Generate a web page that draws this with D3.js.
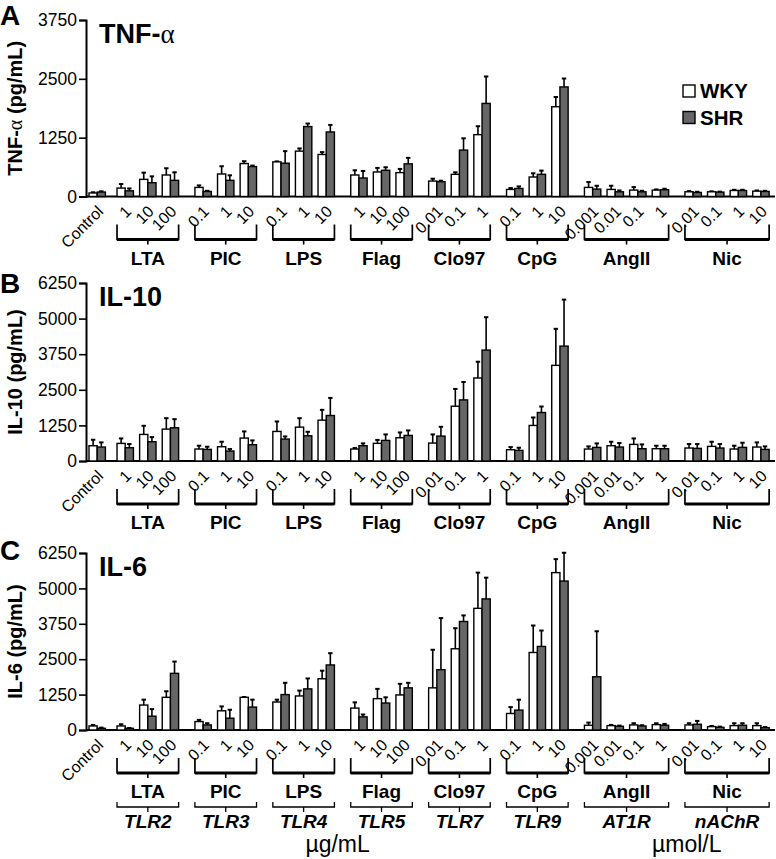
<!DOCTYPE html>
<html><head><meta charset="utf-8">
<script src="https://cdn.jsdelivr.net/npm/d3@7"></script>
<style>body{margin:0;background:#fff}svg{display:block}</style>
</head><body>
<script>
// ---------- data ----------
const groups = ["Control","LTA","PIC","LPS","Flag","Clo97","CpG","AngII","Nic"];
const receptors = ["","TLR2","TLR3","TLR4","TLR5","TLR7","TLR9","AT1R","nAChR"];
const doses = [["Control"],["1","10","100"],["0.1","1","10"],["0.1","1","10"],["1","10","100"],["0.01","0.1","1"],["0.1","1","10"],["0.001","0.01","0.1","1"],["0.01","0.1","1","10"]];
const series = ["WKY","SHR"];
const ticksA = [0,1250,2500,3750];
const ticksBC = [0,1250,2500,3750,5000,6250];

const tnfWKY    = [75,179,364,457,193,478,700,736,964,893,457,521,507,328,471,1314,150,414,1907,193,150,136,136,100,100,128,114];
const tnfWKYErr = [15,85,143,143,43,165,50,10,57,50,100,86,79,50,43,179,29,79,207,114,78,64,14,14,10,14,14];
const tnfSHR    = [95,121,293,343,107,343,636,707,1486,1371,393,557,693,314,986,1978,171,471,2328,157,100,100,143,86,93,128,107];
const tnfSHRErr = [15,50,135,171,14,107,21,257,64,150,150,64,128,22,250,572,43,79,179,71,28,21,21,14,10,14,14];

const il10WKY    = [536,618,933,1119,420,501,805,1038,1189,1434,420,620,816,630,1924,2915,396,1248,3358,420,536,583,431,455,513,420,490];
const il10WKYErr = [210,175,303,385,117,175,233,350,315,362,35,120,187,303,606,571,93,280,1283,93,140,210,105,140,163,117,163];
const il10SHR    = [490,466,676,1166,408,350,571,770,886,1597,536,723,898,875,2145,3894,373,1702,4034,478,490,431,431,443,455,478,408];
const il10SHRErr = [163,129,163,303,93,70,152,93,140,618,82,210,175,326,630,1155,93,210,1633,140,140,152,105,152,140,163,105];

const il6WKY    = [143,143,881,1154,298,678,1154,988,1202,1809,774,1107,1238,1488,2868,4296,583,2737,5557,167,155,179,190,179,119,155,155];
const il6WKYErr = [36,60,190,214,60,155,10,83,190,285,202,345,392,1345,726,1261,226,952,476,95,24,60,48,60,24,83,83];
const il6SHR    = [60,60,488,2000,179,417,809,1250,1452,2297,464,952,1488,2130,3832,4629,702,2951,5260,1880,131,143,167,202,95,167,83];
const il6SHRErr = [24,12,250,416,60,297,262,416,369,416,83,202,178,1821,214,750,369,560,999,1607,24,24,48,119,24,71,24];

// ---------- layout ----------
const W = 776, H = 859;
const FONT = "'Liberation Sans', Arial, Helvetica, sans-serif";
const SERIF = "'Liberation Serif', 'DejaVu Serif', serif";
const svg = d3.select("body").append("svg").attr("width", W).attr("height", H)
  .style("font-family", FONT);

const ctrlGap = 0.24, groupGap = 0.447;
const pairs = [];
let idx = 0;
doses.forEach((ds, g) => ds.forEach(d => {
  pairs.push({g, dose: d, i: idx, pos: idx + (g > 0 ? ctrlGap + (g - 1) * groupGap : 0)});
  idx++;
}));
const x = d3.scaleLinear().domain([0, 1]).range([89, 111.6]);
const bw = 8.2, pairW = bw * 2;
const axisX = 86;

const panels = [
  {letter:"A", title:["TNF-","\u03b1"], ylab:["TNF-","\u03b1"," (pg/mL)"], top:20, bottom:196.5, max:3750, ticks:ticksA,
   wky:tnfWKY, wkyE:tnfWKYErr, shr:tnfSHR, shrE:tnfSHRErr, letterY:25, legend:true},
  {letter:"B", title:["IL-10"], ylab:["IL-10 (pg/mL)"], top:283, bottom:461, max:6250, ticks:ticksBC,
   wky:il10WKY, wkyE:il10WKYErr, shr:il10SHR, shrE:il10SHRErr, letterY:293},
  {letter:"C", title:["IL-6"], ylab:["IL-6 (pg/mL)"], top:553, bottom:730, max:6250, ticks:ticksBC,
   wky:il6WKY, wkyE:il6WKYErr, shr:il6SHR, shrE:il6SHRErr, letterY:560, receptors:true}
];

function addParts(sel, parts) {
  parts.forEach(t => {
    const ts = sel.append("tspan").text(t);
    if (t === "\u03b1") ts.attr("font-family", SERIF).attr("font-weight", "normal");
  });
}

panels.forEach(p => {
  const g = svg.append("g");
  const y = d3.scaleLinear().domain([0, p.max]).range([p.bottom, p.top]);

  // y axis
  const ax = d3.axisLeft(y).tickValues(p.ticks).tickSize(7).tickPadding(2).tickFormat(d3.format("d"));
  const axg = g.append("g").attr("transform", `translate(${axisX},0)`).call(ax);
  axg.select(".domain").attr("stroke", "#000").attr("stroke-width", 2);
  axg.selectAll(".tick line").attr("stroke", "#000").attr("stroke-width", 1.6);
  axg.selectAll(".tick text").attr("font-size", 17.5).attr("font-family", FONT).attr("fill", "#000");

  // x baseline
  g.append("line").attr("x1", axisX).attr("x2", 775).attr("y1", y(0)).attr("y2", y(0))
    .attr("stroke", "#000").attr("stroke-width", 2);

  // bars
  const sets = [
    {vals: p.wky, errs: p.wkyE, off: 0, fill: "#fff"},
    {vals: p.shr, errs: p.shrE, off: bw, fill: "#666"}
  ];
  sets.forEach(s => {
    const bg = g.append("g");
    pairs.forEach((pr, k) => {
      const bx = x(pr.pos) + s.off;
      const cx = bx + bw / 2;
      const top = y(s.vals[k]), et = y(s.vals[k] + s.errs[k]);
      bg.append("line").attr("x1", cx).attr("x2", cx).attr("y1", top).attr("y2", et)
        .attr("stroke", "#000").attr("stroke-width", 1.6);
      bg.append("line").attr("x1", cx - 2.2).attr("x2", cx + 2.2).attr("y1", et).attr("y2", et)
        .attr("stroke", "#000").attr("stroke-width", 2);
      bg.append("rect").attr("x", bx).attr("y", top).attr("width", bw).attr("height", y(0) - top)
        .attr("fill", s.fill).attr("stroke", "#000").attr("stroke-width", 1.4);
    });
  });

  // dose labels
  pairs.forEach(pr => {
    const cx = x(pr.pos) + pairW / 2 + 7, cy = y(0) + 16;
    g.append("text").attr("transform", `translate(${cx},${cy}) rotate(-45)`)
      .attr("text-anchor", "end").attr("font-size", 16).text(pr.dose);
  });

  // group brackets and labels
  groups.forEach((name, gi) => {
    if (gi === 0) return;
    const gp = pairs.filter(d => d.g === gi);
    const x1 = x(gp[0].pos), x2 = x(gp[gp.length - 1].pos) + pairW, xm = (x1 + x2) / 2;
    const by = y(0) + 43;
    g.append("path").attr("d", `M${x1},${by - 15}V${by}H${x2}V${by - 15}`)
      .attr("fill", "none").attr("stroke", "#000").attr("stroke-width", 1.7);
    g.append("line").attr("x1", x1).attr("x2", x2).attr("y1", by).attr("y2", by)
      .attr("stroke", "#000").attr("stroke-width", 3.2);
    g.append("line").attr("x1", xm).attr("x2", xm).attr("y1", by).attr("y2", by + 5)
      .attr("stroke", "#000").attr("stroke-width", 1.6);
    g.append("text").attr("x", xm).attr("y", y(0) + 68).attr("text-anchor", "middle")
      .attr("font-size", 19).attr("font-weight", "bold").text(name);
    if (p.receptors) {
      const ry = y(0) + 77;
      g.append("path").attr("d", `M${x1},${ry - 5}V${ry}H${x2}V${ry - 5}M${xm},${ry}V${ry + 5}`)
        .attr("fill", "none").attr("stroke", "#000").attr("stroke-width", 1.3);
      g.append("text").attr("x", xm).attr("y", y(0) + 98).attr("text-anchor", "middle")
        .attr("font-size", 19).attr("font-weight", "bold").attr("font-style", "italic").text(receptors[gi]);
    }
  });

  // panel letter, title, y label
  g.append("text").attr("x", 0).attr("y", p.letterY).attr("font-size", 28).attr("font-weight", "bold").text(p.letter);
  addParts(g.append("text").attr("x", 99).attr("y", p.top + 23).attr("font-size", 27).attr("font-weight", "bold"), p.title);
  addParts(g.append("text").attr("transform", `translate(22,${(p.top + p.bottom) / 2}) rotate(-90)`)
    .attr("text-anchor", "middle").attr("font-size", 20).attr("font-weight", "bold"), p.ylab);

  if (p.legend) {
    const lg = g.append("g");
    series.forEach((s, k) => {
      lg.append("rect").attr("x", 683).attr("y", 85 + k * 26.5).attr("width", 12).attr("height", 12)
        .attr("fill", k === 0 ? "#fff" : "#666").attr("stroke", "#000").attr("stroke-width", 1.4);
      lg.append("text").attr("x", 700).attr("y", 98 + k * 26.5).attr("font-size", 20.5)
        .attr("font-weight", "bold").text(s);
    });
  }

  if (p.receptors) {
    const mu = pairs.filter(d => d.g >= 1 && d.g <= 6), mo = pairs.filter(d => d.g >= 7);
    const c1 = (x(mu[0].pos) + x(mu[mu.length - 1].pos) + pairW) / 2;
    const c2 = (x(mo[0].pos) + x(mo[mo.length - 1].pos) + pairW) / 2 + 10;
    g.append("text").attr("x", c1 - 5).attr("y", y(0) + 122).attr("text-anchor", "middle").attr("font-size", 23).text("\u00b5g/mL");
    g.append("text").attr("x", c2).attr("y", y(0) + 122).attr("text-anchor", "middle").attr("font-size", 23).text("\u00b5mol/L");
  }
});
</script>
</body></html>
